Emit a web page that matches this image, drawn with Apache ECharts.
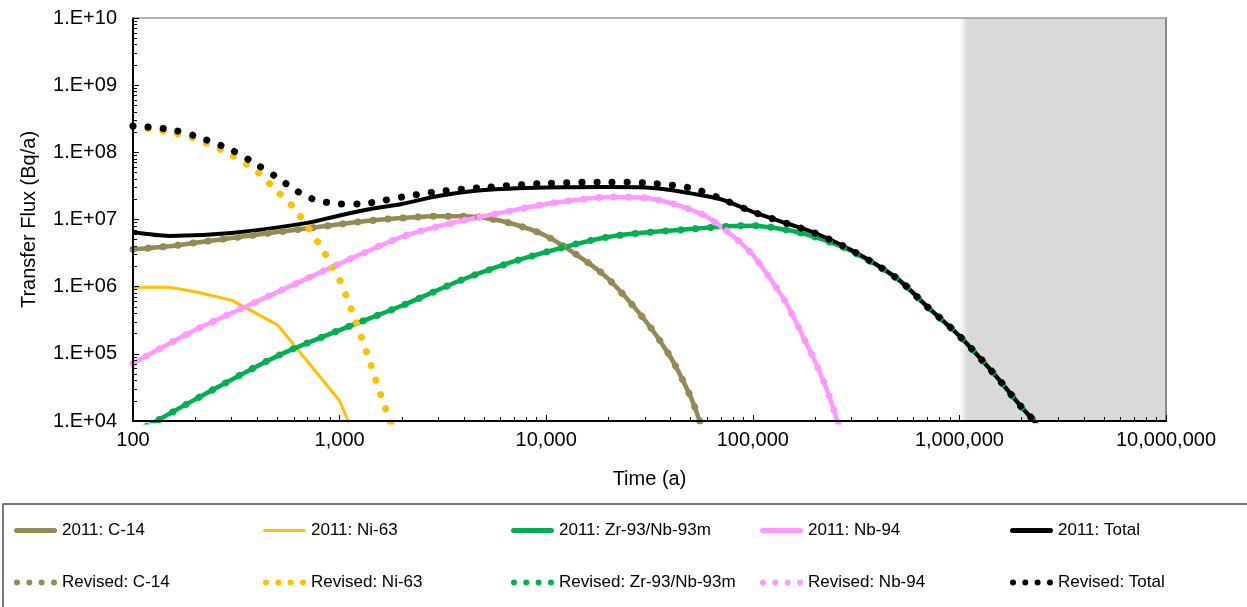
<!DOCTYPE html>
<html>
<head>
<meta charset="utf-8">
<script src="https://cdn.jsdelivr.net/npm/echarts@6/dist/echarts.min.js"></script>
<style>
  html, body { margin: 0; padding: 0; background: #fff; }
  #chart { width: 1247px; height: 607px; }
</style>
</head>
<body>
<div id="chart"></div>
<script>
// values (time in years, flux in Bq/a)
const c14Time = [100, 150, 200, 300, 500, 700, 1000, 1500, 2000, 3000, 4000, 5000, 7000, 10000, 15000, 20000, 30000, 40000, 50000, 55000, 60000];
const c14Flux = [3.6e6, 4.0e6, 4.5e6, 5.3e6, 6.5e6, 7.4e6, 8.5e6, 9.8e6, 1.05e7, 1.12e7, 1.12e7, 1.06e7, 8.5e6, 5.7e6, 2.6e6, 1.3e6, 3.2e5, 8.9e4, 2.3e4, 1.05e4, 5e3];

const ni63Time2011 = [100, 150, 200, 300, 500, 700, 1000, 1100, 1200];
const ni63Flux2011 = [9.8e5, 9.8e5, 8.4e5, 6.3e5, 2.7e5, 7.7e4, 2.0e4, 1.0e4, 5e3];

const ni63TimeRev = [100, 150, 200, 300, 400, 500, 600, 700, 800, 900, 1000, 1200, 1400, 1600, 1800];
const ni63FluxRev = [2.4e8, 2.0e8, 1.6e8, 9.1e7, 5.1e7, 2.6e7, 1.5e7, 7.8e6, 4.2e6, 2.3e6, 1.26e6, 3.0e5, 7.6e4, 2.2e4, 7.9e3];

const zrTime = [100, 130, 200, 500, 1000, 2000, 4000, 8000, 20000, 50000, 80000, 100000, 150000, 200000, 300000, 500000, 700000, 1e6, 1.5e6, 2e6, 2.3e6, 2.6e6];
const zrFlux = [6.5e3, 1e4, 2.1e4, 9.3e4, 2.26e5, 5.2e5, 1.3e6, 2.7e6, 5.5e6, 7.2e6, 8.0e6, 8.1e6, 6.9e6, 5.5e6, 3.4e6, 1.32e6, 5.0e5, 1.85e5, 4.7e4, 1.6e4, 1.0e4, 6e3];

const nbTime = [100, 200, 500, 1000, 2000, 3000, 5000, 7000, 10000, 15000, 20000, 30000, 40000, 50000, 60000, 80000, 100000, 120000, 140000, 160000, 180000, 200000, 220000, 240000, 260000];
const nbFlux = [7.2e4, 2.26e5, 8.3e5, 2.2e6, 5.5e6, 7.9e6, 1.12e7, 1.38e7, 1.7e7, 2.0e7, 2.16e7, 2.1e7, 1.76e7, 1.4e7, 1.1e7, 5.7e6, 2.95e6, 1.38e6, 6.8e5, 3.2e5, 1.5e5, 7.8e4, 3.9e4, 1.9e4, 8.7e3];

const total2011Time = [100, 150, 300, 700, 1000, 1500, 2000, 3000, 5000, 10000, 20000, 30000, 40000, 50000, 70000, 100000, 150000, 200000, 300000, 500000, 700000, 1e6, 1.5e6, 2e6, 2.3e6, 2.6e6];
const total2011Flux = [6.5e6, 5.7e6, 6.3e6, 8.9e6, 1.15e7, 1.48e7, 1.7e7, 2.24e7, 2.75e7, 3.0e7, 3.05e7, 3.0e7, 2.75e7, 2.45e7, 2.0e7, 1.3e7, 8.5e6, 6.3e6, 3.5e6, 1.32e6, 5.0e5, 1.85e5, 4.7e4, 1.6e4, 1.0e4, 6e3];

const totalRevTime = [100, 150, 200, 300, 400, 500, 600, 700, 800, 1000, 1300, 1600, 2000, 3000, 5000, 10000, 20000, 30000, 50000, 70000, 100000, 150000, 200000, 300000, 500000, 700000, 1e6, 1.5e6, 2e6, 2.3e6, 2.6e6];
const totalRevFlux = [2.47e8, 2.2e8, 1.75e8, 1.08e8, 6.5e7, 4.2e7, 2.85e7, 2.16e7, 1.9e7, 1.7e7, 1.72e7, 1.9e7, 2.16e7, 2.6e7, 3.0e7, 3.45e7, 3.6e7, 3.5e7, 2.95e7, 2.05e7, 1.3e7, 8.5e6, 6.3e6, 3.5e6, 1.32e6, 5.0e5, 1.85e5, 4.7e4, 1.6e4, 1.0e4, 6e3];

const FONT = 'Arial, "Liberation Sans", sans-serif';
const C14 = '#948A54', NI = '#FFC000', ZR = '#00B050', NB = '#FF99FF', TOT = '#000000';

const pairs = (ts, vs) => ts.map((t, i) => [t, vs[i]]);

const LINE_ICON = 'path://M2.5,0H40.5A2.5,2.5 0 0 1 40.5,5H2.5A2.5,2.5 0 0 1 2.5,0Z';
const DOT_ICON = 'path://M0,3a3,3 0 1,0 6,0a3,3 0 1,0 -6,0M12.3,3a3,3 0 1,0 6,0a3,3 0 1,0 -6,0M24.6,3a3,3 0 1,0 6,0a3,3 0 1,0 -6,0M37,3a3,3 0 1,0 6,0a3,3 0 1,0 -6,0Z';

// width 0 = dotted "Revised" style
const defs = [
  { name: '2011: C-14', color: C14, data: pairs(c14Time, c14Flux), width: 4.5 },
  { name: '2011: Ni-63', color: NI, data: pairs(ni63Time2011, ni63Flux2011), width: 3, straight: true },
  { name: '2011: Zr-93/Nb-93m', color: ZR, data: pairs(zrTime, zrFlux), width: 4.5 },
  { name: '2011: Nb-94', color: NB, data: pairs(nbTime, nbFlux), width: 4.5 },
  { name: '2011: Total', color: TOT, data: pairs(total2011Time, total2011Flux), width: 4 },
  { name: 'Revised: C-14', color: C14, data: pairs(c14Time, c14Flux), width: 0 },
  { name: 'Revised: Ni-63', color: NI, data: pairs(ni63TimeRev, ni63FluxRev), width: 0 },
  { name: 'Revised: Zr-93/Nb-93m', color: ZR, data: pairs(zrTime, zrFlux), width: 0 },
  { name: 'Revised: Nb-94', color: NB, data: pairs(nbTime, nbFlux), width: 0 },
  { name: 'Revised: Total', color: TOT, data: pairs(totalRevTime, totalRevFlux), width: 0 }
];

const series = defs.map((d, i) => {
  const s = {
    name: d.name, type: 'line', data: d.data, showSymbol: false, symbol: 'none',
    smooth: d.straight ? false : 0.3, color: d.color, z: 2 + i * 0.01,
    lineStyle: d.width
      ? { color: d.color, width: d.width }
      : { color: d.color, width: 7, type: [0.1, 15], cap: 'round' },
    emphasis: { disabled: true }
  };
  if (i === 0) {
    s.markArea = {
      silent: true,
      itemStyle: {
        opacity: 1,
        color: new echarts.graphic.LinearGradient(0, 0, 1, 0, [
          { offset: 0, color: '#ffffff' }, { offset: 0.04, color: '#d9d9d9' }, { offset: 1, color: '#d9d9d9' }
        ])
      },
      data: [[{ xAxis: 1e6 }, { xAxis: 1e7 }]]
    };
  }
  return s;
});

const colLeft = [14, 263, 511, 760, 1010];
const rowMid = [531, 583];
const legends = defs.map((d, i) => {
  const dotted = !d.width;
  const h = dotted ? 6 : (i === 1 ? 3 : 5);
  return {
    data: [{ name: d.name, icon: dotted ? DOT_ICON : LINE_ICON, itemStyle: { color: d.color, borderWidth: 0 } }],
    left: colLeft[i % 5], top: rowMid[Math.floor(i / 5)] - 9,
    padding: 0, itemWidth: 43, itemHeight: h, itemGap: 0,
    symbolKeepAspect: false, selectedMode: false,
    textStyle: { fontFamily: FONT, fontSize: 17, color: '#000' }
  };
});

const chart = echarts.init(document.getElementById('chart'), null, { renderer: 'canvas' });
chart.setOption({
  animation: false,
  backgroundColor: '#fff',
  grid: { left: 133, right: 81, top: 18, bottom: 186, containLabel: false, outerBoundsMode: 'none' },
  graphic: [{
    type: 'rect', shape: { x: 3, y: 504, width: 1260, height: 120 },
    style: { fill: 'none', stroke: '#4d4d4d', lineWidth: 1.5 }, silent: true
  }],
  legend: legends,
  xAxis: [{
    type: 'log', logBase: 10, min: 100, max: 1e7, z: 5,
    name: 'Time (a)', nameLocation: 'middle', nameGap: 48,
    nameTextStyle: { fontFamily: FONT, fontSize: 20, color: '#000' },
    axisLine: { lineStyle: { color: '#000', width: 2 } },
    axisTick: { inside: true, length: 6, lineStyle: { color: '#000', width: 1 } },
    minorTick: { show: true, splitNumber: 9, length: 4, lineStyle: { color: '#000', width: 1 } },
    splitLine: { show: false },
    axisLabel: { fontFamily: FONT, fontSize: 20, color: '#000', margin: 9, formatter: v => Math.round(v).toLocaleString('en-US') }
  }, {
    type: 'log', logBase: 10, min: 100, max: 1e7, position: 'top', z: 5,
    axisLine: { lineStyle: { color: '#999', width: 1.5 } },
    axisTick: { show: false }, axisLabel: { show: false }, splitLine: { show: false }
  }],
  yAxis: [{
    type: 'log', logBase: 10, min: 1e4, max: 1e10, z: 5,
    name: 'Transfer Flux (Bq/a)', nameLocation: 'middle', nameGap: 94,
    nameTextStyle: { fontFamily: FONT, fontSize: 20, color: '#000' },
    axisLine: { lineStyle: { color: '#000', width: 2 } },
    axisTick: { inside: true, length: 6, lineStyle: { color: '#000', width: 1 } },
    minorTick: { show: true, splitNumber: 9, length: 4, lineStyle: { color: '#000', width: 1 } },
    splitLine: { show: false },
    axisLabel: {
      fontFamily: FONT, fontSize: 20, color: '#000', margin: 16,
      formatter: v => '1.E+' + String(Math.round(Math.log10(v))).padStart(2, '0')
    }
  }, {
    type: 'log', logBase: 10, min: 1e4, max: 1e10, position: 'right', z: 5,
    axisLine: { lineStyle: { color: '#888', width: 2 } },
    axisTick: { show: false }, axisLabel: { show: false }, splitLine: { show: false }
  }],
  series
});
</script>
</body>
</html>
